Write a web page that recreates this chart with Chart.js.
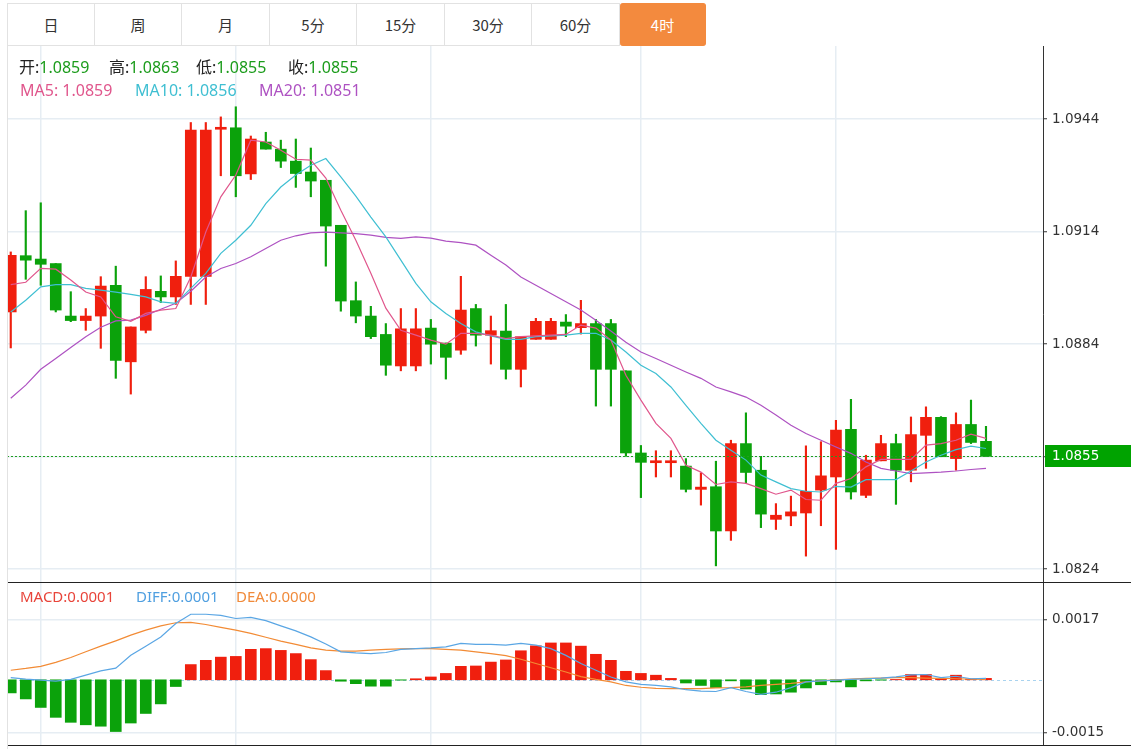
<!DOCTYPE html>
<html>
<head>
<meta charset="utf-8">
<script src="https://cdn.jsdelivr.net/npm/chart.js@4.4.0/dist/chart.umd.min.js"></script>
<style>
body { margin: 0; background: #fff; width: 1141px; height: 749px; overflow: hidden; position: relative;
       font-family: "Noto Sans", "Noto Sans CJK SC", sans-serif; color: #222; }
.tab { position: absolute; top: 3px; height: 43px; line-height: 42px; text-align: center; font-size: 15px;
       font-family: "Noto Sans CJK SC", sans-serif;
       color: #333; box-sizing: border-box; border-top: 1px solid #e2e2e2; border-bottom: 1px solid #e2e2e2;
       border-right: 1px solid #e2e2e2; }
.tab.first { border-left: 1px solid #e2e2e2; }
.tab.on { background: #f38a3e; color: #fff; border-color: #f38a3e; border-radius: 3px; }
.lbl { position: absolute; height: 22px; line-height: 22px; font-size: 16px; white-space: nowrap; }
.g { color: #1c9c1c; }
canvas { position: absolute; left: 0; }
</style>
</head>
<body>
<div class="tab first" style="left:7px;width:88px">日</div>
<div class="tab" style="left:95px;width:87px">周</div>
<div class="tab" style="left:182px;width:88px">月</div>
<div class="tab" style="left:270px;width:87px">5分</div>
<div class="tab" style="left:357px;width:88px">15分</div>
<div class="tab" style="left:445px;width:87px">30分</div>
<div class="tab" style="left:532px;width:88px">60分</div>
<div class="tab on" style="left:620px;width:86px">4时</div>

<canvas id="main" width="1141" height="536" style="top:46px"></canvas>
<canvas id="sub" width="1141" height="167" style="top:582px"></canvas>

<div class="lbl" style="left:19px;top:56px">开:<span class="g" id="vO"></span></div>
<div class="lbl" style="left:109px;top:56px">高:<span class="g" id="vH"></span></div>
<div class="lbl" style="left:196px;top:56px">低:<span class="g" id="vL"></span></div>
<div class="lbl" style="left:288px;top:56px">收:<span class="g" id="vC"></span></div>
<div class="lbl" id="ma5lbl" style="left:20px;top:79px;color:#e0568c"></div>
<div class="lbl" id="ma10lbl" style="left:135px;top:79px;color:#3fbfd2"></div>
<div class="lbl" id="ma20lbl" style="left:259px;top:79px;color:#ae52c2"></div>

<div class="lbl" id="macdlbl" style="left:20px;top:585px;font-size:15px;color:#e8443a"></div>
<div class="lbl" id="difflbl" style="left:136px;top:585px;font-size:15px;color:#4f9fe0"></div>
<div class="lbl" id="dealbl" style="left:236px;top:585px;font-size:15px;color:#f08a3a"></div>

<script>
// 4h candles
var opens  = [1.08926,1.09076,1.09067,1.09055,1.08915,1.08903,1.08915,1.08997,1.08793,1.08877,
              1.08981,1.08966,1.09021,1.09021,1.09413,1.09417,1.09294,1.09379,1.09360,1.09328,
              1.09299,1.09277,1.09157,1.08956,1.08915,1.08866,1.08782,1.08782,1.08883,1.08843,
              1.08824,1.08935,1.08864,1.08875,1.08773,1.08853,1.08853,1.08899,1.08884,1.08895,
              1.08895,1.08769,1.08550,1.08524,1.08524,1.08515,1.08453,1.08460,1.08342,1.08575,
              1.08504,1.08373,1.08382,1.08390,1.08451,1.08486,1.08613,1.08437,1.08529,1.08575,
              1.08504,1.08597,1.08645,1.08535,1.08626,1.08581];
var highs  = [1.09086,1.09196,1.09217,1.09055,1.08980,1.08935,1.09020,1.09048,1.08886,1.09020,
              1.09022,1.09062,1.09431,1.09431,1.09446,1.09473,1.09395,1.09405,1.09384,1.09387,
              1.09363,1.09277,1.09157,1.09006,1.08941,1.08895,1.08935,1.08935,1.08906,1.08843,
              1.09021,1.08946,1.08915,1.08946,1.08860,1.08909,1.08909,1.08919,1.08957,1.08906,
              1.08906,1.08769,1.08570,1.08556,1.08556,1.08535,1.08497,1.08528,1.08584,1.08657,
              1.08541,1.08415,1.08435,1.08569,1.08580,1.08637,1.08693,1.08544,1.08597,1.08600,
              1.08646,1.08673,1.08647,1.08657,1.08691,1.08621];
var lows   = [1.08830,1.09013,1.08997,1.08926,1.08900,1.08877,1.08829,1.08749,1.08707,1.08870,
              1.08951,1.08946,1.08946,1.08946,1.09289,1.09233,1.09279,1.09360,1.09311,1.09258,
              1.09233,1.09048,1.08928,1.08897,1.08855,1.08757,1.08769,1.08769,1.08787,1.08747,
              1.08813,1.08835,1.08787,1.08747,1.08726,1.08853,1.08853,1.08860,1.08867,1.08675,
              1.08675,1.08541,1.08431,1.08486,1.08486,1.08446,1.08411,1.08249,1.08317,1.08469,
              1.08351,1.08346,1.08356,1.08275,1.08356,1.08293,1.08427,1.08431,1.08529,1.08413,
              1.08473,1.08509,1.08540,1.08504,1.08575,1.08541];
var closes = [1.09077,1.09064,1.09053,1.08931,1.08903,1.08915,1.08995,1.08797,1.08886,1.08986,
              1.08966,1.09021,1.09411,1.09411,1.09417,1.09289,1.09387,1.09360,1.09328,1.09295,
              1.09275,1.09155,1.08955,1.08915,1.08860,1.08784,1.08881,1.08881,1.08840,1.08805,
              1.08931,1.08864,1.08876,1.08773,1.08860,1.08901,1.08901,1.08888,1.08895,1.08773,
              1.08773,1.08550,1.08525,1.08529,1.08529,1.08453,1.08459,1.08342,1.08575,1.08498,
              1.08387,1.08384,1.08393,1.08448,1.08489,1.08611,1.08446,1.08531,1.08575,1.08504,
              1.08599,1.08645,1.08540,1.08626,1.08578,1.08541];

var ma5  = [1.08999,1.09005,1.09042,1.09040,1.09011,1.08979,1.08966,1.08913,1.08901,1.08922,
            1.08931,1.08935,1.09019,1.09139,1.09233,1.09291,1.09384,1.09379,1.09357,1.09333,
            1.09331,1.09283,1.09197,1.09117,1.09029,1.08936,1.08877,1.08864,1.08851,1.08840,
            1.08869,1.08869,1.08864,1.08855,1.08860,1.08862,1.08864,1.08866,1.08891,1.08883,
            1.08851,1.08757,1.08691,1.08629,1.08589,1.08517,1.08499,1.08466,1.08473,1.08469,
            1.08455,1.08440,1.08451,1.08426,1.08424,1.08469,1.08482,1.08513,1.08533,1.08533,
            1.08533,1.08571,1.08575,1.08584,1.08600,1.08589];
var ma10 = [1.08926,1.08957,1.08993,1.08999,1.08999,1.08989,1.08984,1.08979,1.08973,1.08966,
            1.08953,1.08949,1.08989,1.09029,1.09082,1.09117,1.09157,1.09215,1.09259,1.09291,
            1.09317,1.09335,1.09286,1.09235,1.09179,1.09126,1.09064,1.09002,1.08953,1.08922,
            1.08895,1.08873,1.08862,1.08853,1.08853,1.08860,1.08862,1.08864,1.08869,1.08869,
            1.08851,1.08819,1.08784,1.08762,1.08726,1.08677,1.08629,1.08584,1.08557,1.08531,
            1.08491,1.08473,1.08455,1.08448,1.08446,1.08461,1.08459,1.08479,1.08479,1.08479,
            1.08502,1.08526,1.08544,1.08559,1.08568,1.08562];
var ma20 = [1.08696,1.08731,1.08773,1.08802,1.08831,1.08860,1.08885,1.08902,1.08904,1.08917,
            1.08933,1.08949,1.08981,1.09019,1.09042,1.09055,1.09073,1.09095,1.09117,1.09129,
            1.09137,1.09139,1.09137,1.09135,1.09131,1.09125,1.09122,1.09126,1.09123,1.09115,
            1.09111,1.09104,1.09077,1.09051,1.09019,1.08997,1.08975,1.08953,1.08931,1.08904,
            1.08875,1.08845,1.08819,1.08802,1.08784,1.08766,1.08749,1.08726,1.08713,1.08699,
            1.08677,1.08651,1.08624,1.08602,1.08584,1.08566,1.08549,1.08526,1.08509,1.08502,
            1.08495,1.08497,1.08499,1.08502,1.08506,1.08509];

var macd = [-0.00037,-0.00054,-0.00078,-0.00106,-0.00120,-0.00127,-0.00131,-0.00146,-0.00122,-0.00095,
            -0.00068,-0.00019,0.00043,0.00055,0.00064,0.00066,0.00086,0.00088,0.00083,0.00074,
            0.00057,0.00026,-0.00004,-0.00011,-0.00018,-0.00018,-0.00001,0.00003,0.00008,0.00018,
            0.00038,0.00039,0.00050,0.00056,0.00082,0.00096,0.00104,0.00104,0.00095,0.00072,
            0.00055,0.00024,0.00018,0.00013,0.00004,-0.00009,-0.00016,-0.00022,-0.00003,-0.00026,
            -0.00042,-0.00040,-0.00035,-0.00023,-0.00014,-0.00006,-0.00020,-0.00003,-0.00001,0.00001,
            0.00015,0.00015,0.00003,0.00013,0.00002,0.00004];
var diff = [0.00006,0.00002,-0.00001,-0.00004,0.00001,0.00013,0.00025,0.00033,0.00069,0.00095,
            0.00121,0.00159,0.00185,0.00185,0.00182,0.00173,0.00176,0.00167,0.00152,0.00138,
            0.00121,0.00101,0.00079,0.00076,0.00074,0.00077,0.00086,0.00088,0.00090,0.00093,
            0.00103,0.00100,0.00100,0.00098,0.00103,0.00098,0.00088,0.00069,0.00046,0.00027,
            0.00008,-0.00006,-0.00013,-0.00016,-0.00020,-0.00028,-0.00032,-0.00033,-0.00022,-0.00033,
            -0.00041,-0.00035,-0.00022,-0.00006,-0.00003,-0.00001,0.00001,0.00003,0.00005,0.00008,
            0.00014,0.00015,0.00006,0.00010,0.00003,0.00004];
var dea  = [0.00027,0.00032,0.00038,0.00049,0.00063,0.00079,0.00095,0.00110,0.00126,0.00140,
            0.00152,0.00161,0.00162,0.00156,0.00148,0.00140,0.00131,0.00120,0.00109,0.00100,
            0.00090,0.00084,0.00081,0.00081,0.00084,0.00086,0.00087,0.00088,0.00088,0.00086,
            0.00084,0.00079,0.00074,0.00068,0.00058,0.00046,0.00034,0.00022,0.00009,0.00001,
            -0.00006,-0.00016,-0.00021,-0.00024,-0.00025,-0.00025,-0.00025,-0.00023,-0.00022,-0.00020,
            -0.00016,-0.00013,-0.00010,-0.00006,-0.00003,0.00000,0.00002,0.00004,0.00005,0.00006,
            0.00006,0.00005,0.00004,0.00003,0.00002,0.00001];

var priceTicks = [1.0824, 1.0854, 1.0884, 1.0914, 1.0944];
var macdTicks = [-0.0015, 0.0017];
var timeTicks = [2, 15, 28, 42, 55];   // vertical grid lines (candle index)

// header read-outs as shown
var ohlcText = ["1.0859", "1.0863", "1.0855", "1.0855"];
var maText = ["MA5: 1.0859", "MA10: 1.0856", "MA20: 1.0851"];
var macdText = ["MACD:0.0001", "DIFF:0.0001", "DEA:0.0000"];
var lastText = "1.0855";

document.getElementById("vO").textContent = ohlcText[0];
document.getElementById("vH").textContent = ohlcText[1];
document.getElementById("vL").textContent = ohlcText[2];
document.getElementById("vC").textContent = ohlcText[3];
document.getElementById("ma5lbl").textContent = maText[0];
document.getElementById("ma10lbl").textContent = maText[1];
document.getElementById("ma20lbl").textContent = maText[2];
document.getElementById("macdlbl").textContent = macdText[0];
document.getElementById("difflbl").textContent = macdText[1];
document.getElementById("dealbl").textContent = macdText[2];

var upColor = "#f01f0e";
var downColor = "#0ba20b";
var gridColor = "#e6edf3";
var axisFont = {family: "DejaVu Sans", size: 13.5};
var xMin = -0.25, xMax = 68.8;
var axisWidth = 98;
var frameRight = 1131;

function pts(arr) {
    return arr.map(function (v, i) { return {x: i, y: v}; });
}

function xAxis() {
    return {
        type: "linear", min: xMin, max: xMax, offset: false,
        grid: {color: gridColor, lineWidth: 1.5, drawTicks: false, offset: false},
        border: {display: false},
        ticks: {display: false},
        afterBuildTicks: function (s) { s.ticks = timeTicks.map(function (v) { return {value: v}; }); },
        afterFit: function (s) { s.height = 0; s.paddingLeft = 0; s.paddingRight = 0; }
    };
}

function yAxis(min, max, ticks) {
    return {
        position: "right", min: min, max: max,
        afterBuildTicks: function (s) { s.ticks = ticks.map(function (v) { return {value: v}; }); },
        afterFit: function (s) { s.width = axisWidth; s.paddingTop = 0; s.paddingBottom = 0; },
        grid: {color: gridColor, lineWidth: 1.5, tickColor: "#333", tickLength: 4, tickWidth: 1},
        border: {display: true, color: "#333", width: 1},
        ticks: {color: "#333", font: axisFont, padding: 5,
                callback: function (v) { return v.toFixed(4); }}
    };
}

function lineSet(arr, color) {
    return {type: "line", data: pts(arr), borderColor: color, borderWidth: 1.2,
            pointRadius: 0, fill: false, tension: 0, order: 0};
}

var candleColors = opens.map(function (o, i) { return closes[i] >= o ? upColor : downColor; });

var mainMarks = {
    id: "mainMarks",
    afterDatasetsDraw: function (chart) {
        var ctx = chart.ctx, a = chart.chartArea;
        var py = Math.round(chart.scales.y.getPixelForValue(closes[closes.length - 1])) + 0.5;
        ctx.save();
        ctx.strokeStyle = "#1f9f1f";
        ctx.lineWidth = 1;
        ctx.setLineDash([2, 2]);
        ctx.beginPath(); ctx.moveTo(a.left, py); ctx.lineTo(a.right, py); ctx.stroke();
        ctx.restore();
    },
    afterDraw: function (chart) {
        var ctx = chart.ctx, a = chart.chartArea;
        var py = Math.round(chart.scales.y.getPixelForValue(closes[closes.length - 1])) + 0.5;
        ctx.save();
        ctx.fillStyle = "#00a300";
        ctx.fillRect(a.right + 2, py - 11.5, frameRight - a.right - 2, 22);
        ctx.fillStyle = "#fff";
        ctx.font = "13.5px 'DejaVu Sans'";
        ctx.textBaseline = "middle";
        ctx.fillText(lastText, a.right + 9, py);
        ctx.strokeStyle = "#e2e2e2";
        ctx.lineWidth = 1;
        ctx.beginPath(); ctx.moveTo(a.left + 0.5, a.top); ctx.lineTo(a.left + 0.5, a.bottom); ctx.stroke();
        ctx.restore();
    }
};

new Chart(document.getElementById("main"), {
    type: "bar",
    data: {
        datasets: [
            lineSet(ma5, "#e0568c"),
            lineSet(ma10, "#3fbfd2"),
            lineSet(ma20, "#ae52c2"),
            {type: "bar", data: opens.map(function (o, i) { return {x: i, y: [o, closes[i]]}; }),
             backgroundColor: candleColors, barThickness: 11, minBarLength: 2, grouped: false,
             borderWidth: 0, order: 1},
            {type: "bar", data: lows.map(function (l, i) { return {x: i, y: [l, highs[i]]}; }),
             backgroundColor: candleColors, barThickness: 1.5, grouped: false,
             borderWidth: 0, order: 2}
        ]
    },
    options: {
        responsive: false, animation: false, events: [],
        layout: {autoPadding: false, padding: {left: 7, right: 0, top: 0, bottom: 0}},
        plugins: {legend: {display: false}, tooltip: {enabled: false}},
        scales: {x: xAxis(), y: yAxis(1.08206, 1.09635, priceTicks)}
    },
    plugins: [mainMarks]
});

var subMarks = {
    id: "subMarks",
    beforeDatasetsDraw: function (chart) {
        var ctx = chart.ctx, a = chart.chartArea;
        var zy = Math.round(chart.scales.y.getPixelForValue(0)) + 0.5;
        ctx.save();
        ctx.strokeStyle = "#a9d3ef";
        ctx.lineWidth = 1;
        ctx.setLineDash([3, 3]);
        ctx.beginPath(); ctx.moveTo(a.left, zy); ctx.lineTo(a.right, zy); ctx.stroke();
        ctx.restore();
    },
    afterDraw: function (chart) {
        var ctx = chart.ctx, a = chart.chartArea;
        ctx.save();
        ctx.strokeStyle = "#222";
        ctx.lineWidth = 1;
        ctx.beginPath();
        ctx.moveTo(a.left, a.top + 0.5); ctx.lineTo(frameRight, a.top + 0.5);
        ctx.moveTo(a.left, a.bottom + 0.5); ctx.lineTo(frameRight, a.bottom + 0.5);
        ctx.stroke();
        ctx.strokeStyle = "#e2e2e2";
        ctx.beginPath(); ctx.moveTo(a.left + 0.5, a.top); ctx.lineTo(a.left + 0.5, chart.height); ctx.stroke();
        ctx.restore();
    }
};

new Chart(document.getElementById("sub"), {
    type: "bar",
    data: {
        datasets: [
            lineSet(diff, "#5aa6e4"),
            lineSet(dea, "#f28b35"),
            {type: "bar", data: pts(macd),
             backgroundColor: macd.map(function (v) { return v >= 0 ? upColor : downColor; }),
             barThickness: 11, grouped: false, borderWidth: 0, order: 1}
        ]
    },
    options: {
        responsive: false, animation: false, events: [],
        layout: {autoPadding: false, padding: {left: 7, right: 0, top: 0, bottom: 4}},
        plugins: {legend: {display: false}, tooltip: {enabled: false}},
        scales: {x: xAxis(), y: yAxis(-0.00184, 0.00276, macdTicks)}
    },
    plugins: [subMarks]
});
</script>
</body>
</html>
